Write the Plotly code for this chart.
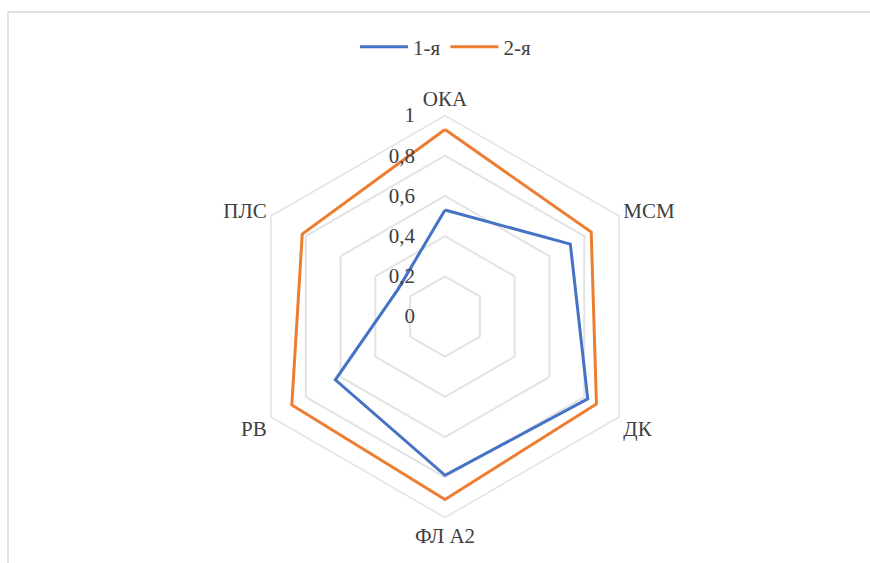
import plotly.graph_objects as go

# Radar chart data (clockwise from top)
categories = ["ОКА", "МСМ", "ДК", "ФЛ А2", "РВ", "ПЛС"]
series_names = ["1-я", "2-я"]
values_1 = [0.53, 0.72, 0.82, 0.79, 0.63, 0.27]
values_2 = [0.93, 0.84, 0.87, 0.91, 0.88, 0.82]
tick_vals = [0, 0.2, 0.4, 0.6, 0.8, 1]
tick_text = ["0", "0,2", "0,4", "0,6", "0,8", "1"]

colors = ["#4472C4", "#ED7D31"]
grid_color = "#E3E3E3"
font_family = "Liberation Serif, Times New Roman, serif"

W, H = 870, 563
cx, cy, R = 445, 316.5, 201

# keep radial tick labels clear of the axis
pad = "\u00a0" * 5

fig = go.Figure()
for name, vals, col in zip(series_names, [values_1, values_2], colors):
    fig.add_trace(go.Scatterpolar(
        r=vals + vals[:1],
        theta=categories + categories[:1],
        mode="lines",
        name=name,
        line=dict(color=col, width=3),
    ))

fig.update_layout(
    width=W, height=H,
    margin=dict(l=0, r=0, t=0, b=0),
    paper_bgcolor="white",
    plot_bgcolor="white",
    font=dict(family=font_family, size=21, color="#404040"),
    showlegend=True,
    legend=dict(
        orientation="h",
        x=0.512, xanchor="center",
        y=1 - 47 / H, yanchor="middle",
        font=dict(size=21, color="#404040"),
        itemwidth=48,
    ),
    polar=dict(
        domain=dict(
            x=[(cx - R) / W, (cx + R) / W],
            y=[(H - cy - R) / H, (H - cy + R) / H],
        ),
        gridshape="linear",
        bgcolor="white",
        radialaxis=dict(
            range=[0, 1],
            tickvals=tick_vals,
            ticktext=[t + pad for t in tick_text],
            angle=90,
            tickangle=90,
            side="counterclockwise",
            showline=False,
            ticks="",
            gridcolor=grid_color,
            gridwidth=1.5,
            tickfont=dict(size=21, color="#404040"),
        ),
        angularaxis=dict(
            rotation=90,
            direction="clockwise",
            showgrid=False,
            showline=True,
            linecolor=grid_color,
            linewidth=1.5,
            ticks="",
            tickfont=dict(size=21, color="#404040"),
        ),
    ),
    shapes=[
        dict(type="line", xref="paper", yref="paper",
             x0=8 / W, x1=1, y0=1 - 12 / H, y1=1 - 12 / H,
             line=dict(color="#D9D9D9", width=1.5)),
        dict(type="line", xref="paper", yref="paper",
             x0=8 / W, x1=8 / W, y0=0, y1=1 - 12 / H,
             line=dict(color="#D9D9D9", width=1.5)),
    ],
)

fig.write_html("out.html")
